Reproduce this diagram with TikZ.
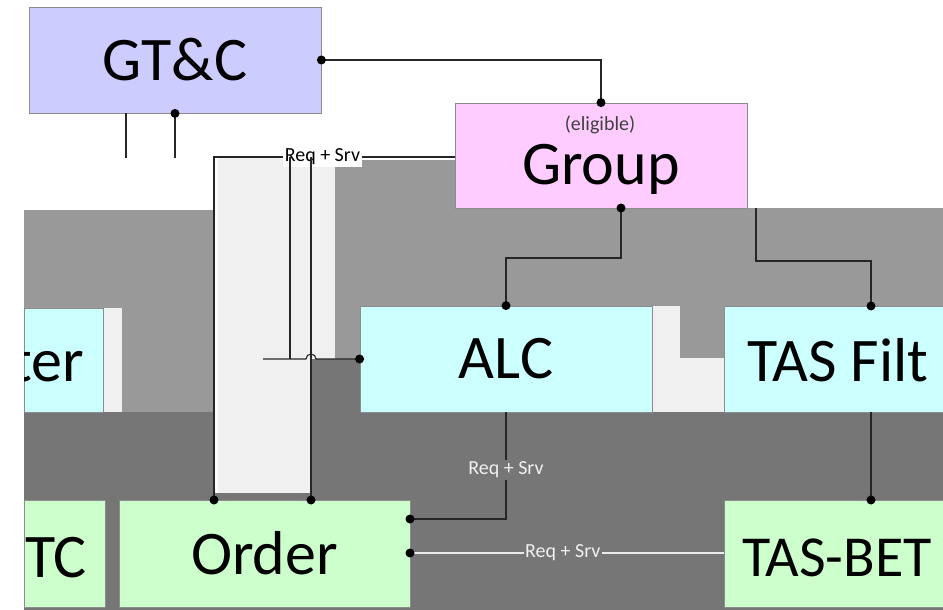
\documentclass[tikz,border=0pt]{standalone}
\usepackage{fontspec}
\setmainfont{Carlito}
\definecolor{lav}{HTML}{CCCCFF}
\definecolor{pinkb}{HTML}{FFCCFF}
\definecolor{cyanb}{HTML}{CCFFFF}
\definecolor{greenb}{HTML}{CCFFCC}
\definecolor{midg}{HTML}{999999}
\definecolor{darkg}{HTML}{767676}
\definecolor{lightg}{HTML}{F0F0F0}
\begin{document}
\begin{tikzpicture}[x=1pt,y=-1pt,
  box/.style={draw=black!45, line width=0.8pt, minimum width=292pt, minimum height=106pt,
    inner sep=0pt, font=\fontsize{62}{62}\selectfont},
  bigtxt/.style={inner sep=0pt, font=\fontsize{62}{62}\selectfont},
  wire/.style={draw=black!85, line width=1.1pt},
  dwire/.style={draw=black!70, line width=0.6pt, double=white!92!black, double distance=1.2pt},
  dot/.style={circle, fill=black, inner sep=0pt, minimum size=9pt},
  lbl/.style={font=\fontsize{20}{20}\selectfont, inner sep=1.5pt, fill=white},
  dlbl/.style={font=\fontsize{20}{20}\selectfont, inner sep=1.5pt, fill=darkg, text=white!94!black}]
\useasboundingbox (0,0) rectangle (943,610);
\clip (0,0) rectangle (943,610);
% background regions
\fill[white] (0,0) rectangle (943,610);
\fill[midg] (24,210) rectangle (213,412);
\fill[midg] (335,160) -- (455,160) -- (455,208) -- (943,208) -- (943,306) -- (360,306) -- (360,359) -- (335,359) -- cycle;
\fill[darkg] (24,412) rectangle (943,610);
\fill[white] (213,412) rectangle (218,493);
\fill[darkg] (311,359) rectangle (360,412);
\fill[lightg] (218,158) rectangle (335,359);
\fill[lightg] (218,359) rectangle (311,493);
\fill[lightg] (652,306) rectangle (724,412);
\fill[midg] (680,306) rectangle (724,358);
\fill[lightg] (103,308) rectangle (122,412);
% boxes
\node[box, fill=lav] (gtc) at (175,60) {GT\&C};
\node[box, fill=pinkb, minimum height=105pt] (grp) at (601,155.5) {};
\node[font=\fontsize{20}{20}\selectfont, inner sep=0pt, text=black!75, anchor=base] (elig) at (600,131) {(eligible)};
\node[bigtxt, anchor=base] (grptxt) at (601,184) {Group};
\node[box, fill=cyanb] (alc) at (506,359) {ALC};
\node[box, fill=cyanb, minimum width=284pt] (tasf) at (866,359) {};
\node[bigtxt, anchor=base west] (tasftxt) at (747,381) {TAS Filt};
\node[box, fill=cyanb, minimum width=79pt, minimum height=104pt] (filt) at (63.5,360) {};
\begin{scope}
  \clip (24,308) rectangle (103,412);
  \node[bigtxt, anchor=base] (filttxt) at (48,381) {ter};
\end{scope}
\node[box, fill=greenb, minimum width=81pt, minimum height=107pt] (tc) at (64.5,553.5) {};
\node[bigtxt, anchor=base] (tctxt) at (56,577) {TC};
\node[box, fill=greenb, minimum width=291pt, minimum height=107pt] (ord) at (264.5,553.5) {Order};
\node[box, fill=greenb, minimum width=250pt, minimum height=107pt] (tasb) at (849,553.5) {};
\node[inner sep=0pt, font=\fontsize{58}{58}\selectfont, anchor=base west] (tasbtxt) at (742,576) {TAS-BET};
% named coordinates
\coordinate (g1) at (126,158);
\coordinate (g2) at (175,158);
\coordinate (gb1) at (621,208);
\coordinate (gb2) at (756,208);
\coordinate (tfn) at (871,306);
\coordinate (tfs) at (871,412);
\coordinate (tbn) at (871,500);
\coordinate (oe1) at (410,519);
\coordinate (oe2) at (410,553);
\coordinate (ot1) at (214,500);
\coordinate (ot2) at (311,500);
\coordinate (topl) at (214,157);
\coordinate (topr) at (455,157);
\coordinate (topm) at (311,157);
\coordinate (dtop) at (290,157);
\coordinate (dbot) at (290,359);
\coordinate (cl) at (263,359);
\coordinate (hopl) at (306,359);
\coordinate (alcsouth) at (506,412);
% connectors
\draw[wire] (gtc.east) -| (grp.north);
\draw[wire] (gtc.south -| g1) -- (g1);
\draw[wire] (gtc.south) -- (g2);
\draw[wire] (gb1) -- ++(0,50) -| (alc.north);
\draw[wire] (gb2) -- ++(0,53) -| (tfn);
\draw[wire] (tfs) -- (tbn);
\draw[wire] (ot1) -- (topl) -- (topr) node[lbl, pos=0.45] (lbltop) {Req + Srv};
\draw[wire] (ot2) -- (topm);
\draw[wire] (dtop) -- (dbot);
\draw[wire] (cl) -- (hopl) arc[start angle=180, end angle=0, radius=5pt] -- (alc.west);
\draw[wire] (alcsouth) -- (oe1 -| alcsouth) -- (oe1);
\node[dlbl] (lblmid) at (506,470) {Req + Srv};
\draw[dwire] (oe2) -- (oe2 -| tasb.west) node[dlbl, midway, xshift=-4pt] (lblbot) {Req + Srv};
% dots
\foreach \p in {gtc.east, grp.north, gtc.south, gb1, alc.north, tfn, tbn, oe1, oe2, ot1, ot2, alc.west}
  \node[dot] at (\p) {};
\end{tikzpicture}
\end{document}
